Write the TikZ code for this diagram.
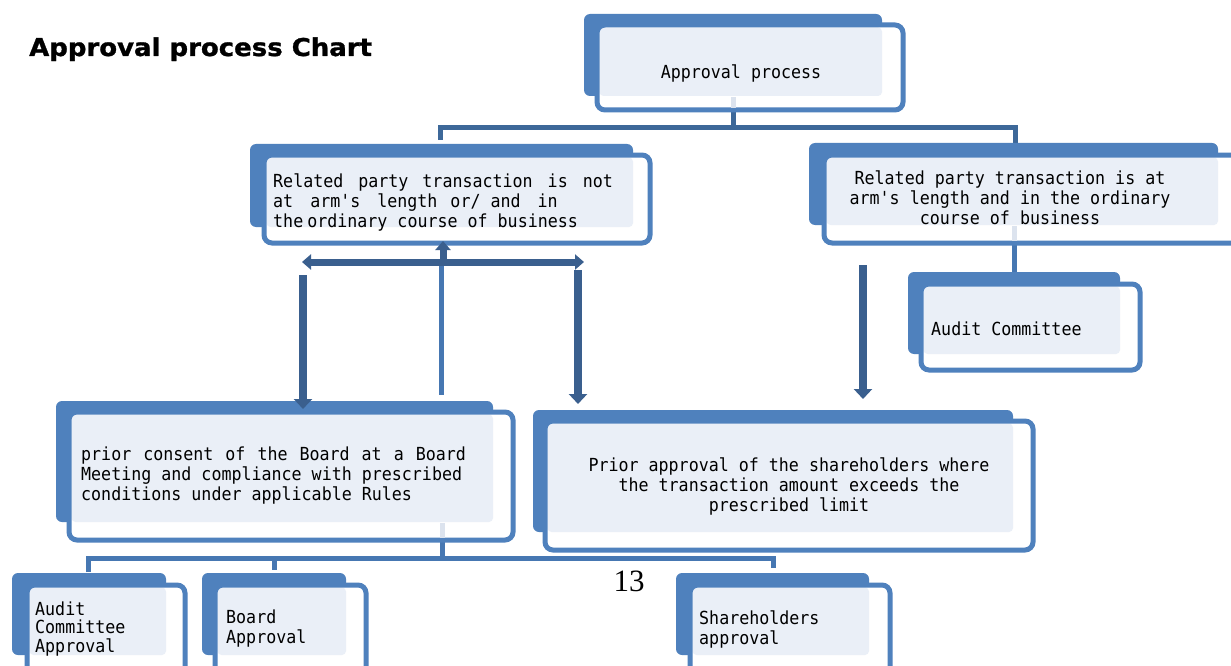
\documentclass[tikz,border=0pt]{standalone}
\usepackage{fontspec}
\newfontfamily\monof[Ligatures=TeXOff,FakeStretch=0.925]{DejaVu Sans Mono}
\newfontfamily\titlef[FakeStretch=1.06,FakeBold=1.2]{DejaVu Sans}
\newfontfamily\numf{Liberation Serif}
\usetikzlibrary{arrows.meta}
\definecolor{boxblue}{HTML}{4F81BD}
\definecolor{lightf}{HTML}{EAEFF7}
\definecolor{conndark}{HTML}{3D6899}
\definecolor{connmid}{HTML}{4677B2}
\definecolor{arrowdark}{HTML}{3A5F8E}
\definecolor{stripe}{HTML}{DCE3EE}
\newcommand\hs[1]{\hspace*{#1pt}}
\newcommand\dbox[9]{%
  \fill[boxblue, rounded corners=6pt] (#2,#3) rectangle (#4,#5);
  \fill[white, rounded corners=8pt] (#6,#7) rectangle (#8,#9);
  \fill[lightf, rounded corners=4pt] (#6+2.5,#7+2.5) rectangle (#4,#5);
  \draw[boxblue, line width=5pt, rounded corners=8pt] (#6,#7) rectangle (#8,#9);
  \coordinate (#1-nw) at (#6,#7);
  \coordinate (#1-se) at (#8,#9);
}
\begin{document}
\begin{tikzpicture}[x=1pt,y=-1pt,
  txt/.style={font=\monof\fontsize{18}{20}\selectfont, inner sep=0pt},
  txtb/.style={font=\monof\fontsize{18}{18.5}\selectfont, inner sep=0pt},
  conna/.style={draw=conndark, line width=5pt},
  connb/.style={draw=connmid, line width=5pt},
  bigarrow/.style={draw=arrowdark, line width=8pt, -{Triangle[width=18pt,length=10pt]}},
  midarrow/.style={draw=arrowdark, line width=7pt}]
\useasboundingbox (0,0) rectangle (1231,666);
\clip (0,0) rectangle (1231,666);
\fill[white] (0,0) rectangle (1231,666);

% connectors under the boxes
\coordinate (j1) at (440,128);
\coordinate (j2) at (1015,128);
\coordinate (jt) at (733,128);
\coordinate (topout) at (733,111);
\draw[conna] (440,140) -- (j1) -- (j2) -- (1015,145);
\draw[conna] (topout) -- (jt);
\coordinate (rmout) at (1014,245);
\coordinate (acin) at (1014,272);
\draw[connb] (rmout) -- (acin);
\coordinate (pcout) at (442,542);
\coordinate (k1) at (442,558);
\coordinate (k0) at (88,558);
\coordinate (k2) at (274,558);
\coordinate (k3) at (773,558);
\draw[connb] (pcout) -- (k1);
\draw[connb] (88,572) -- (k0) -- (k3) -- (773,568);
\draw[connb] (k2) -- (274,570);

% boxes
\dbox{top}{584}{14}{882}{96}{597}{25}{903}{110}
\dbox{lm}{250}{144}{633}{227}{264}{155}{650}{243}
\dbox{rm}{809}{143}{1218}{225}{824}{155}{1245}{243}
\dbox{ac}{908}{272}{1120}{354}{921}{284}{1140}{370}
\dbox{pc}{56}{401}{493}{522}{69}{412}{513}{540}
\dbox{pa}{533}{410}{1013}{532}{545}{421}{1033}{550}
\dbox{aca}{12}{573}{166}{655}{27}{585}{185}{690}
\dbox{ba}{202}{573}{346}{655}{215}{585}{366}{690}
\dbox{sa}{676}{573}{869}{655}{690}{585}{890}{690}

% faint stripes where connectors leave boxes
\fill[stripe] (730.5,97) rectangle (735.5,108);
\fill[stripe] (1011.5,226) rectangle (1016.5,241);
\fill[stripe] (439.5,523) rectangle (444.5,538);

% texts
\node[anchor=base west, inner sep=0pt, font=\titlef\bfseries\fontsize{24.5}{28}\selectfont] (title) at (29,56) {Approval process Chart};
\node[txt] (t-top) at (741,73) {Approval process};
\node[txt, anchor=west, align=left] (t-lm) at (273,202)
  {Related\hs{15}party\hs{14}transaction\hs{15}is\hs{15}not\\
   at\hs{17}arm's\hs{17}length\hs{13}or/\hs{10}and\hs{17}in\\
   the\hs{4}ordinary course of business};
\node[txt, align=center] (t-rm) at (1010,198)
  {Related party transaction is at\\arm's length and in the ordinary\\course of business};
\node[txt, anchor=west] (t-ac) at (931,329) {Audit Committee};
\node[txt, anchor=west, align=left] (t-pc) at (81,476)
  {{\spaceskip=12pt\relax prior consent of the Board at a Board}\\Meeting and compliance with prescribed\\conditions under applicable Rules};
\node[txt, align=center] (t-pa) at (789,486)
  {Prior approval of the shareholders where\\the transaction amount exceeds the\\prescribed limit};
\node[txtb, anchor=west, align=left] (t-aca) at (35,629) {Audit\\Committee\\Approval};
\node[txt, anchor=west, align=left] (t-ba) at (226,629) {Board\\Approval};
\node[txt, anchor=west, align=left] (t-sa) at (699,629) {Shareholders\\approval};
\node[inner sep=0pt, font=\numf\fontsize{31}{34}\selectfont] (pg) at (629,581) {13};

% thick arrows from the left middle box
\coordinate (hl) at (302,262);
\coordinate (hr) at (584,262);
\coordinate (hm) at (443,262);
\coordinate (lmin) at (443,241);
\draw[midarrow, {Triangle[width=15pt,length=9pt]}-{Triangle[width=15pt,length=9pt]}] (hl) -- (hr);
\draw[midarrow, -{Triangle[width=15pt,length=9pt]}] (hm) -- (lmin);
\draw[connb] (441,266) -- (441,395);
\draw[bigarrow] (303,275) -- (303,409);
\draw[bigarrow] (578,270) -- (578,404);
\draw[bigarrow] (863,265) -- (863,399);
\end{tikzpicture}
\end{document}
